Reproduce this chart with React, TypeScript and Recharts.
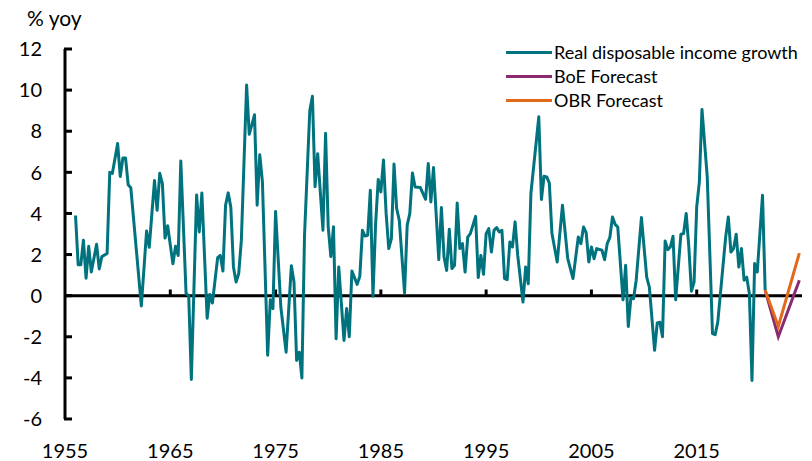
import React from 'react';
import { LineChart, Line, XAxis, YAxis, ReferenceLine, Legend } from 'recharts';

const FONT = 'Lato, "Open Sans", sans-serif';

const xTicks = [1955, 1965, 1975, 1985, 1995, 2005, 2015];
const xMarkTicks = [1965, 1975, 1985, 1995, 2005, 2015];
const yTicks = [-6, -4, -2, 0, 2, 4, 6, 8, 10, 12];

const rdiYears = [
  1956.0, 1956.25, 1956.5, 1956.75, 1957.0, 1957.25, 1957.5, 1958.0, 1958.25, 1958.5,
  1959.0, 1959.25, 1959.5, 1960.0, 1960.25, 1960.5, 1960.75, 1961.0, 1961.25, 1962.25,
  1962.75, 1963.0, 1963.5, 1963.75, 1964.0, 1964.25, 1964.5, 1964.75, 1965.25, 1965.5,
  1965.75, 1966.0, 1966.5, 1966.75, 1967.0, 1967.5, 1967.75, 1968.0, 1968.5, 1968.75,
  1969.0, 1969.5, 1969.75, 1970.0, 1970.25, 1970.5, 1970.75, 1971.0, 1971.25, 1971.5,
  1971.75, 1972.25, 1972.5, 1973.0, 1973.25, 1973.5, 1973.75, 1974.25, 1974.5, 1974.75,
  1975.0, 1975.5, 1976.0, 1976.5, 1976.75, 1977.0, 1977.25, 1977.5, 1977.75, 1978.25,
  1978.5, 1978.75, 1979.0, 1979.5, 1979.75, 1980.0, 1980.25, 1980.5, 1980.75, 1981.0,
  1981.5, 1981.75, 1982.0, 1982.25, 1982.75, 1983.0, 1983.25, 1983.5, 1983.75, 1984.0,
  1984.25, 1984.5, 1984.75, 1985.0, 1985.25, 1985.5, 1985.75, 1986.0, 1986.25, 1986.5,
  1986.75, 1987.25, 1987.5, 1987.75, 1988.0, 1988.25, 1988.75, 1989.25, 1989.5, 1989.75,
  1990.0, 1990.5, 1990.75, 1991.0, 1991.25, 1991.5, 1991.75, 1992.0, 1992.25, 1992.5,
  1992.75, 1993.0, 1993.25, 1993.5, 1994.0, 1994.25, 1994.5, 1994.75, 1995.0, 1995.25,
  1995.5, 1995.75, 1996.0, 1996.25, 1996.5, 1996.75, 1997.0, 1997.25, 1997.5, 1997.75,
  1998.0, 1998.5, 1998.75, 1999.0, 1999.25, 2000.0, 2000.25, 2000.5, 2000.75, 2001.0,
  2001.25, 2001.75, 2002.25, 2002.75, 2003.25, 2003.75, 2004.0, 2004.25, 2004.5, 2004.75,
  2005.0, 2005.25, 2005.5, 2006.0, 2006.25, 2006.5, 2006.75, 2007.0, 2007.25, 2007.5,
  2008.0, 2008.25, 2008.5, 2008.75, 2009.0, 2009.25, 2009.75, 2010.25, 2010.5, 2011.0,
  2011.25, 2011.5, 2011.75, 2012.0, 2012.25, 2012.5, 2012.75, 2013.0, 2013.5, 2013.75,
  2014.0, 2014.25, 2014.5, 2014.75, 2015.0, 2015.25, 2015.5, 2016.0, 2016.5, 2016.75,
  2017.0, 2017.75, 2018.0, 2018.25, 2018.5, 2018.75, 2019.0, 2019.25, 2019.5, 2019.75,
  2020.0, 2020.25, 2020.5, 2020.75, 2021.25, 2021.5,
];

const rdiValues = [
  3.9, 1.5, 1.5, 2.7, 0.85, 2.4, 1.15, 2.5, 1.3, 1.9,
  2.05, 6.0, 5.95, 7.4, 5.8, 6.7, 6.7, 5.4, 5.25, -0.5,
  3.15, 2.35, 5.6, 4.15, 5.95, 5.45, 2.8, 3.4, 1.55, 2.4,
  1.95, 6.55, 0.1, 0.0, -4.08, 4.9, 3.1, 5.0, -1.1, 0.06,
  -0.36, 1.85, 1.96, 1.2, 4.4, 5.0, 4.3, 1.4, 0.66, 1.07,
  2.7, 10.25, 7.85, 8.8, 4.4, 6.85, 5.55, -2.9, -0.2, -0.63,
  4.1, -0.55, -2.75, 1.45, 0.66, -3.15, -2.75, -4.0, 2.94, 9.0,
  9.7, 5.3, 6.9, 3.18, 7.9, 3.35, 1.9, 3.35, -2.1, 1.4,
  -2.18, -0.63, -2.0, 1.2, 0.55, 0.94, 3.18, 2.9, 2.94, 5.13,
  -0.03, 3.47, 5.65, 5.05, 6.6, 4.0, 2.29, 2.78, 6.4, 4.24,
  3.67, 0.13, 3.42, 4.0, 5.97, 5.29, 5.26, 4.69, 6.43, 4.56,
  6.23, 1.75, 4.29, 1.88, 1.23, 3.23, 1.32, 1.48, 4.51, 2.29,
  2.53, 1.15, 2.85, 3.02, 3.86, 0.88, 1.96, 1.04, 3.02, 3.26,
  2.12, 3.18, 3.31, 3.1, 3.18, 0.83, 0.78, 2.61, 2.37, 3.59,
  1.96, -0.31, 1.39, 0.58, 4.97, 8.7, 4.68, 5.81, 5.78, 5.48,
  3.02, 1.64, 4.4, 1.8, 0.83, 2.85, 2.53, 3.34, 3.07, 1.64,
  2.37, 1.8, 2.29, 2.21, 1.75, 2.53, 2.83, 3.83, 3.47, 3.34,
  -0.2, 1.48, -1.5, -0.1, -0.15, 0.75, 3.8, 0.9, 0.42, -2.66,
  -1.33, -1.29, -2.0, 2.66, 2.24, 2.37, 2.89, -0.2, 2.99, 3.02,
  4.0, 2.37, 0.22, 0.66, 4.32, 5.53, 9.06, 5.78, -1.85, -1.9,
  -1.29, 2.85, 3.83, 2.12, 2.29, 2.99, 1.39, 2.29, 0.75, 0.9,
  0.1, -4.13, 1.56, 1.15, 4.89, 0.26,
];

const forecastYears = [2021.5, 2022.75, 2024.75];
const boeForecast = [0.26, -2.0, 0.75];
const obrForecast = [0.26, -1.5, 2.07];

const TEAL = '#00737F';
const PURPLE = '#8B2A70';
const ORANGE = '#E2681A';

const rdiData = rdiYears.map((year, i) => ({ year, value: rdiValues[i] }));
const boeData = forecastYears.map((year, i) => ({ year, value: boeForecast[i] }));
const obrData = forecastYears.map((year, i) => ({ year, value: obrForecast[i] }));

const legendItems = [
  { label: 'Real disposable income growth', color: TEAL },
  { label: 'BoE Forecast', color: PURPLE },
  { label: 'OBR Forecast', color: ORANGE },
];

const YTick = (props: any) => {
  const { x, y, payload } = props;
  return (
    <g>
      <line x1={x - 1} x2={x + 7} y1={y} y2={y} stroke="#000" strokeWidth={3} />
      <text x={x - 23} y={y} dy="0.36em" textAnchor="end" fontFamily={FONT} fontSize={20} fill="#000">
        {payload.value}
      </text>
    </g>
  );
};

const XTick = (props: any) => {
  const { x, y, payload } = props;
  return (
    <text x={x} y={y + 39} textAnchor="middle" fontFamily={FONT} fontSize={20} fill="#000">
      {payload.value}
    </text>
  );
};

const LegendContent = () => (
  <div style={{ fontFamily: FONT }}>
    {legendItems.map((it) => (
      <div key={it.label} style={{ display: 'flex', alignItems: 'center', height: 24 }}>
        <span style={{ display: 'inline-block', width: 46, height: 3, background: it.color }} />
        <span style={{ marginLeft: 2, fontSize: 18, color: '#000', whiteSpace: 'nowrap' }}>{it.label}</span>
      </div>
    ))}
  </div>
);

export default function App() {
  return (
    <div style={{ position: 'absolute', left: 0, top: 0, width: 812, height: 461, background: '#fff' }}>
      <div
        style={{
          position: 'absolute',
          left: 27,
          top: 6,
          fontFamily: FONT,
          fontSize: 21,
          lineHeight: '24px',
          color: '#000',
          whiteSpace: 'nowrap',
        }}
      >
        % yoy
      </div>
      <LineChart width={812} height={461} margin={{ top: 49, right: 10, bottom: 0, left: 0 }}>
        <XAxis
          type="number"
          dataKey="year"
          domain={[1955, 2025]}
          ticks={xTicks}
          allowDataOverflow
          axisLine={false}
          tickLine={false}
          tickSize={0}
          tickMargin={0}
          height={42}
          tick={<XTick />}
          interval={0}
        />
        <YAxis
          type="number"
          domain={[-6, 12]}
          ticks={yTicks}
          width={65}
          axisLine={{ stroke: '#000', strokeWidth: 3 }}
          tickLine={false}
          tickSize={0}
          tickMargin={0}
          tick={<YTick />}
          interval={0}
        />
        <ReferenceLine y={0} stroke="#000" strokeWidth={3} />
        {xMarkTicks.map((t) => (
          <ReferenceLine
            key={t}
            segment={[{ x: t, y: 0 }, { x: t, y: 0.3 }]}
            stroke="#000"
            strokeWidth={3}
          />
        ))}
        <Line
          data={rdiData}
          dataKey="value"
          type="linear"
          stroke={TEAL}
          strokeWidth={3}
          dot={false}
          isAnimationActive={false}
          strokeLinejoin="round"
        />
        <Line
          data={boeData}
          dataKey="value"
          type="linear"
          stroke={PURPLE}
          strokeWidth={3}
          dot={false}
          isAnimationActive={false}
        />
        <Line
          data={obrData}
          dataKey="value"
          type="linear"
          stroke={ORANGE}
          strokeWidth={3}
          dot={false}
          isAnimationActive={false}
        />
        <Legend
          layout="vertical"
          align="center"
          verticalAlign="middle"
          wrapperStyle={{ position: 'absolute', top: 40, left: 506, width: 306, height: 72 }}
          content={<LegendContent />}
        />
      </LineChart>
    </div>
  );
}
